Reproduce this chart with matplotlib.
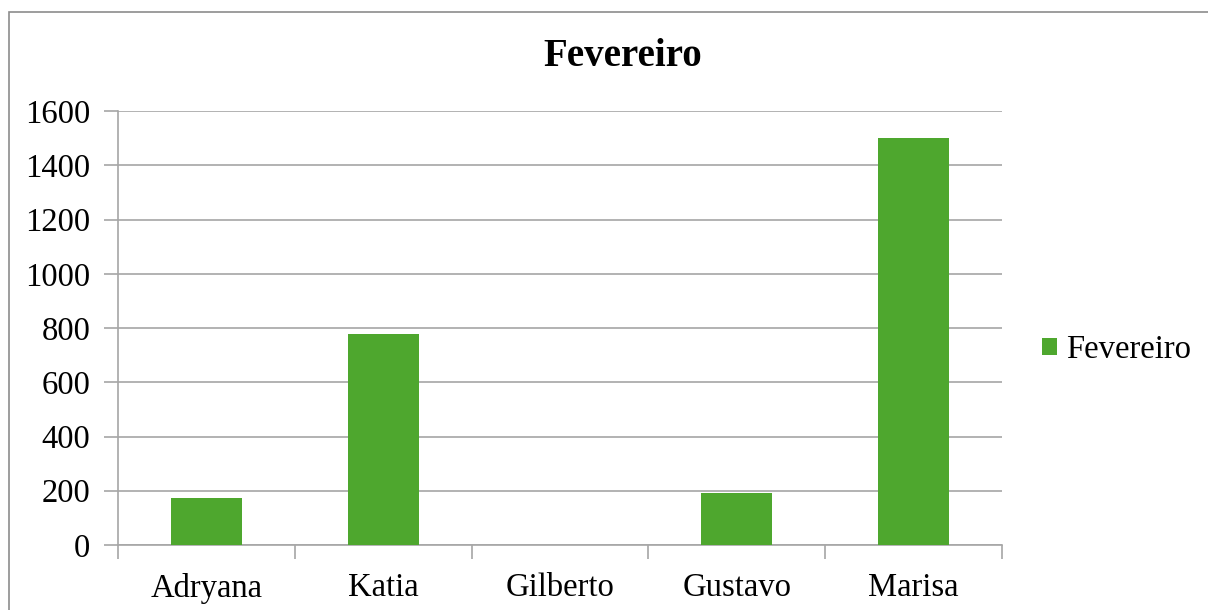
import matplotlib.pyplot as plt
from matplotlib.patches import Rectangle
from matplotlib.ticker import FixedLocator

names = ['Adryana', 'Katia', 'Gilberto', 'Gustavo', 'Marisa']
values = [174, 778, 0, 193, 1500]
y_ticks = [0, 200, 400, 600, 800, 1000, 1200, 1400, 1600]
series_name = 'Fevereiro'

plt.rcParams['font.family'] = ['Liberation Serif', 'DejaVu Serif']

green = '#4EA72E'
grid_gray = '#A6A6A6'

fig = plt.figure(figsize=(12.08, 6.10), dpi=100)
fig.patches.append(Rectangle((9 / 1208, -0.1), 1.2, 1 - 12 / 610 + 0.1,
                             transform=fig.transFigure, fill=False,
                             edgecolor='#8C8C8C', linewidth=1.2))

ax = fig.add_axes([118 / 1208, 1 - 545 / 610, (1002 - 118) / 1208, (545 - 111) / 610])

x = list(range(len(names)))
ax.bar(x, values, width=0.4, color=green, label=series_name, zorder=3)

ax.set_xlim(-0.5, len(names) - 0.5)
ax.set_ylim(0, 1600)
ax.set_yticks(y_ticks)
ax.set_xticks(x)
ax.set_xticklabels(names)
ax.xaxis.set_minor_locator(FixedLocator([i - 0.5 for i in range(len(names) + 1)]))

ax.tick_params(axis='x', which='major', length=0, pad=20, labelsize=23.5)
ax.tick_params(axis='x', which='minor', length=10, width=1.2, color=grid_gray)
ax.tick_params(axis='y', length=10, width=1.2, color=grid_gray, pad=10, labelsize=23.5)

ax.grid(axis='y', color=grid_gray, linewidth=1.2, zorder=0)
for side in ['top', 'right']:
    ax.spines[side].set_visible(False)
for side in ['left', 'bottom']:
    ax.spines[side].set_color(grid_gray)
    ax.spines[side].set_linewidth(1.2)

fig.text(623 / 1208, 1 - 57 / 610, 'Fevereiro', ha='center', va='center',
         fontsize=28, fontweight='bold')

ax.legend(loc='center left', bbox_to_anchor=(1.012, 0.45), frameon=False,
          fontsize=23.5, handlelength=0.45, handleheight=0.45, handletextpad=0.3)

fig.savefig('out.png', dpi=100)
